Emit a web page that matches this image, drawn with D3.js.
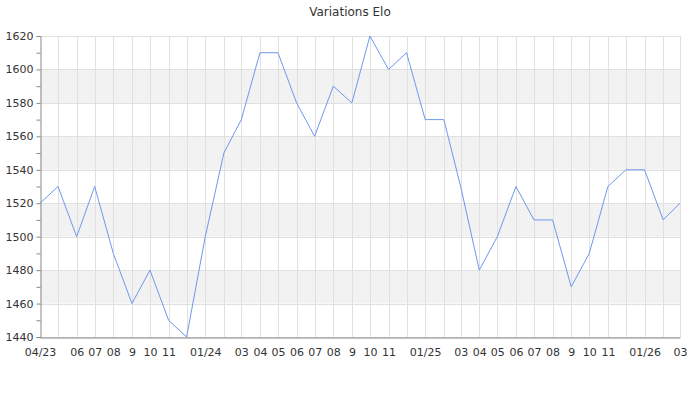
<!DOCTYPE html>
<html>
<head>
<meta charset="utf-8">
<script src="https://cdn.jsdelivr.net/npm/d3@7"></script>
<style>
body { margin: 0; background: #fff; }
text { font-family: "DejaVu Sans", sans-serif; fill: #333; }
</style>
</head>
<body>
<script>
var title = 'Variations Elo';

// one point per month, Apr 2023 -> Mar 2026
var months = ['2023-04','2023-05','2023-06','2023-07','2023-08','2023-09','2023-10','2023-11','2023-12',
	'2024-01','2024-02','2024-03','2024-04','2024-05','2024-06','2024-07','2024-08','2024-09','2024-10','2024-11','2024-12',
	'2025-01','2025-02','2025-03','2025-04','2025-05','2025-06','2025-07','2025-08','2025-09','2025-10','2025-11','2025-12',
	'2026-01','2026-02','2026-03'];
var elo = [1520,1530,1500,1530,1490,1460,1480,1450,1440,
	1500,1550,1570,1610,1610,1580,1560,1590,1580,1620,1600,1610,
	1570,1570,1530,1480,1500,1530,1510,1510,1470,1490,1530,1540,
	1540,1510,1520];
var tickLabels = ['04/23','','06','07','08','9','10','11','',
	'01/24','','03','04','05','06','07','08','9','10','11','',
	'01/25','','03','04','05','06','07','08','9','10','11','',
	'01/26','','03'];
var yTicks = [1440,1460,1480,1500,1520,1540,1560,1580,1600,1620];

var w = 700, h = 400;
var m = { top: 36, right: 20, bottom: 63, left: 40 };

var parse = d3.timeParse('%Y-%m');
var dates = months.map(parse);

var x = d3.scaleTime()
	.domain([dates[0], dates[dates.length - 1]])
	.range([m.left, w - m.right]);
var y = d3.scaleLinear()
	.domain([1440, 1620])
	.range([h - m.bottom, m.top]);

var svg = d3.select('body').append('svg')
	.attr('width', w)
	.attr('height', h);

svg.append('text')
	.attr('x', w / 2)
	.attr('y', 16)
	.attr('text-anchor', 'middle')
	.style('font-size', '12px')
	.text(title);

// alternating bands
var bands = [];
for (var i = 0; i < yTicks.length - 1; i++) {
	if (i % 2 === 1) bands.push([yTicks[i], yTicks[i + 1]]);
}
svg.append('g').selectAll('rect')
	.data(bands)
	.enter().append('rect')
	.attr('x', m.left)
	.attr('width', w - m.right - m.left)
	.attr('y', function(d) { return y(d[1]); })
	.attr('height', function(d) { return y(d[0]) - y(d[1]); })
	.attr('fill', '#f2f2f2');

// grid
svg.append('g').selectAll('line')
	.data(yTicks)
	.enter().append('line')
	.attr('x1', m.left).attr('x2', w - m.right)
	.attr('y1', function(d) { return Math.round(y(d)) + 0.5; })
	.attr('y2', function(d) { return Math.round(y(d)) + 0.5; })
	.attr('stroke', '#e0e0e0');
svg.append('g').selectAll('line')
	.data(dates.slice(1))
	.enter().append('line')
	.attr('x1', function(d) { return Math.round(x(d)) + 0.5; })
	.attr('x2', function(d) { return Math.round(x(d)) + 0.5; })
	.attr('y1', m.top).attr('y2', h - m.bottom)
	.attr('stroke', '#e0e0e0');

// y axis
var yAxis = svg.append('g')
	.attr('transform', 'translate(' + (m.left + 0.5) + ',0)')
	.call(d3.axisLeft(y).tickValues(d3.range(1440, 1621, 10)).tickSize(4)
		.tickFormat(function(d) { return d % 20 === 0 ? d : ''; }));
yAxis.select('.domain').attr('stroke', '#888');
yAxis.selectAll('.tick line').attr('stroke', '#888');
yAxis.selectAll('text').style('font-size', '11px').attr('x', -7).attr('fill', '#333');

// x axis
var xAxis = svg.append('g')
	.attr('transform', 'translate(0,' + (h - m.bottom + 0.5) + ')')
	.call(d3.axisBottom(x).tickValues(dates).tickSize(0)
		.tickFormat(function(d, i) { return tickLabels[i]; }));
xAxis.select('.domain').attr('stroke', '#888');
xAxis.selectAll('text').style('font-size', '11px').attr('dy', '0').attr('y', 18).attr('fill', '#333');

// line
svg.append('path')
	.datum(elo)
	.attr('fill', 'none')
	.attr('stroke', '#6d98ee')
	.attr('stroke-width', 1)
	.attr('d', d3.line()
		.x(function(d, i) { return x(dates[i]); })
		.y(function(d) { return y(d); }));
</script>
</body>
</html>
